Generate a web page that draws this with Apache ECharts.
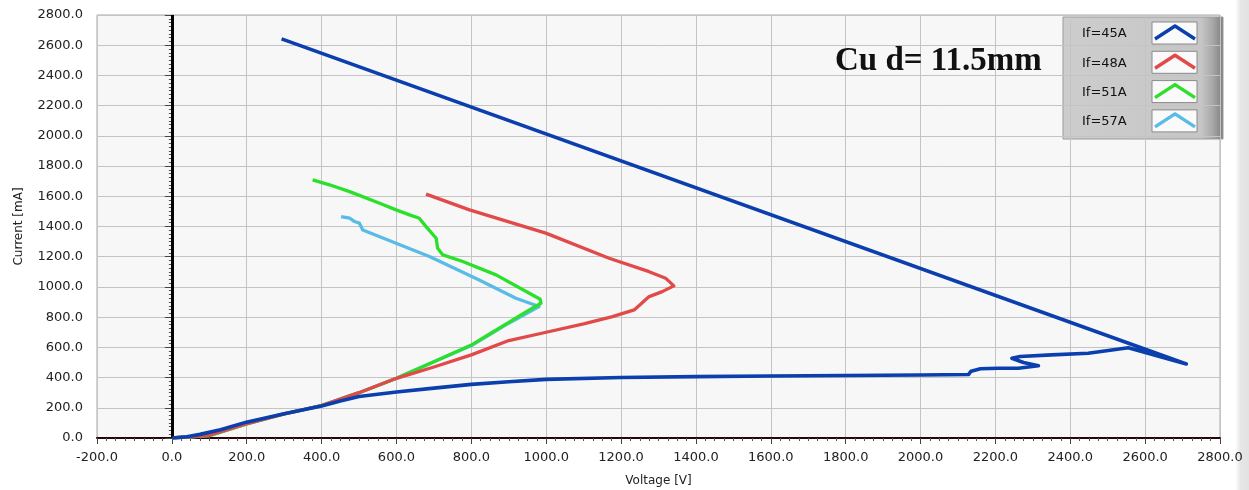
<!DOCTYPE html>
<html>
<head>
<meta charset="utf-8">
<script src="https://cdn.jsdelivr.net/npm/echarts@6/dist/echarts.min.js"></script>
<style>
html,body{margin:0;padding:0;background:#ffffff;}
#chart{width:1249px;height:490px;}
</style>
</head>
<body>
<div id="chart"></div>
<script>
// ---- data ----
var seriesNames = ['If=45A', 'If=48A', 'If=51A', 'If=57A'];
var titleText = 'Cu d= 11.5mm';
var xAxisName = 'Voltage [V]';
var yAxisName = 'Current [mA]';

// [Voltage V, Current mA]
var if45 = [[0,0],[40,8],[75,24],[130,55],[199,105],[300,160],[400,212],[450,245],[500,275],[600,305],[700,330],
  [800,355],[900,372],[1000,388],[1200,400],[1400,406],[1600,410],[1800,414],[2000,417],[2128,420],
  [2135,442],[2160,458],[2208,462],[2261,462],[2315,478],[2275,500],[2244,528],[2266,539],[2350,550],
  [2448,561],[2555,598],[2710,490],[293,2642]];
var if48 = [[0,0],[100,18],[200,95],[300,160],[400,215],[500,300],[600,395],[700,470],[800,550],[900,645],
  [1000,700],[1100,755],[1177,803],[1235,848],[1275,936],[1310,969],[1341,1007],[1319,1058],[1275,1101],
  [1168,1190],[999,1356],[795,1510],[679,1614]];
var if51 = [[0,0],[100,16],[200,93],[300,160],[400,215],[500,300],[600,395],[700,505],[800,615],[850,690],
  [900,765],[955,848],[986,892],[984,918],[955,958],[866,1080],[777,1168],[724,1212],[710,1256],[706,1322],
  [679,1399],[661,1455],[635,1477],[599,1510],[555,1554],[475,1631],[421,1676],[376,1709]];
var if57 = [[0,0],[100,16],[200,93],[300,160],[400,215],[500,300],[600,395],[700,505],[800,612],[900,760],
  [981,870],[919,925],[821,1046],[688,1201],[599,1289],[510,1377],[501,1422],[488,1433],[475,1455],[452,1466]];

var xMin = -200, xMax = 2800, xStep = 200;
var yMin = 0, yMax = 2800, yStep = 200;

// ---- style ----
var colors = ['#0b3fae', '#e24a4a', '#2be02b', '#58bce6'];
var zs = [5, 4, 3, 2];
var font = 'DejaVu Sans';

var chart = echarts.init(document.getElementById('chart'));
var allData = [if45, if48, if51, if57];

var series = allData.map(function (d, i) {
  var s = {
    name: seriesNames[i],
    type: 'line',
    data: d,
    z: zs[i],
    showSymbol: false,
    symbol: 'none',
    animation: false,
    lineStyle: { color: colors[i], width: i === 0 ? 3.6 : 3.3, join: 'round' },
    itemStyle: { color: colors[i] }
  };
  if (i === 3) {
    s.markLine = {
      symbol: 'none', silent: true, animation: false,
      label: { show: false },
      lineStyle: { type: 'solid', color: '#050000', width: 3 },
      emphasis: { disabled: true },
      data: [
        { xAxis: 3, lineStyle: { color: '#d05050', width: 1, type: 'solid' } },
        { xAxis: 0, lineStyle: { color: '#050000', width: 3, type: 'solid' } }
      ]
    };
  }
  return s;
});

// legend graphic
var lgX = 1063, lgY = 17, lgW = 160, lgH = 122;
var legendChildren = [{
  type: 'rect',
  shape: { x: lgX, y: lgY, width: lgW, height: lgH },
  style: {
    fill: new echarts.graphic.LinearGradient(0, 0, 1, 0, [
      { offset: 0, color: '#cdcdcd' }, { offset: 0.86, color: '#c6c6c6' },
      { offset: 0.93, color: '#a9a9a9' }, { offset: 1, color: '#7c7c7c' }
    ]),
    stroke: '#9a9a9a', lineWidth: 1
  }
}];
seriesNames.forEach(function (n, i) {
  var yc = 33 + i * 29.3;
  legendChildren.push({
    type: 'text', x: 1082, y: yc + 1,
    style: { text: n, fill: '#111', font: '13px "' + font + '"', textAlign: 'left', textVerticalAlign: 'middle' }
  });
  legendChildren.push({
    type: 'rect', shape: { x: 1152, y: yc - 11, width: 45, height: 22 },
    style: { fill: '#fafafa', stroke: '#8a8a8a', lineWidth: 1 }
  });
  legendChildren.push({
    type: 'polyline',
    shape: { points: [[1155, yc + 6], [1175, yc - 7], [1195, yc + 6]] },
    style: { stroke: colors[i], lineWidth: 3.4, fill: null, lineJoin: 'round' }
  });
});

var option = {
  backgroundColor: '#ffffff',
  animation: false,
  grid: {
    left: 97, right: 29, top: 15, bottom: 52,
    outerBoundsMode: 'none', containLabel: false,
    show: true, backgroundColor: '#f7f7f7', borderColor: '#a8a8a8', borderWidth: 1
  },
  xAxis: {
    type: 'value', min: xMin, max: xMax, interval: xStep,
    name: xAxisName, nameLocation: 'middle', nameGap: 37,
    nameTextStyle: { color: '#222', fontFamily: font, fontSize: 12 },
    axisLine: { show: true, onZero: true, lineStyle: { color: '#2a0505', width: 2 } },
    axisTick: { show: true, length: 6, lineStyle: { color: '#444' } },
    minorTick: { show: true, splitNumber: 8, length: 3, lineStyle: { color: '#555' } },
    axisLabel: { color: '#222', fontFamily: font, fontSize: 13, margin: 13,
      formatter: function (v) { return v.toFixed(1); } },
    splitLine: { show: true, lineStyle: { color: '#c4c4c4', width: 1 } }
  },
  yAxis: {
    type: 'value', min: yMin, max: yMax, interval: yStep,
    name: yAxisName, nameLocation: 'middle', nameGap: 72, nameRotate: 90,
    nameTextStyle: { color: '#222', fontFamily: font, fontSize: 12 },
    axisLine: { show: true, lineStyle: { color: '#9a9a9a', width: 1 } },
    axisTick: { show: true, length: 7, lineStyle: { color: '#444' } },
    minorTick: { show: true, splitNumber: 8, length: 3, lineStyle: { color: '#555' } },
    axisLabel: { color: '#222', fontFamily: font, fontSize: 13, margin: 14,
      formatter: function (v) { return v.toFixed(1); } },
    splitLine: { show: true, lineStyle: { color: '#c4c4c4', width: 1 } }
  },
  series: series,
  graphic: [
    {
      type: 'rect', shape: { x: 1236, y: 0, width: 13, height: 490 }, z: -1,
      style: { fill: new echarts.graphic.LinearGradient(0, 0, 1, 0, [
        { offset: 0, color: '#fbfbfb' }, { offset: 0.35, color: '#e6e6e6' }, { offset: 1, color: '#e2e2e2' }
      ]) }
    },
    {
      type: 'text', x: 835, y: 61, z: 10,
      style: { text: titleText, fill: '#111', font: 'bold 33px "Liberation Serif"',
        textAlign: 'left', textVerticalAlign: 'middle' }
    },
    { type: 'group', z: 10, children: legendChildren }
  ]
};
chart.setOption(option);
</script>
</body>
</html>
